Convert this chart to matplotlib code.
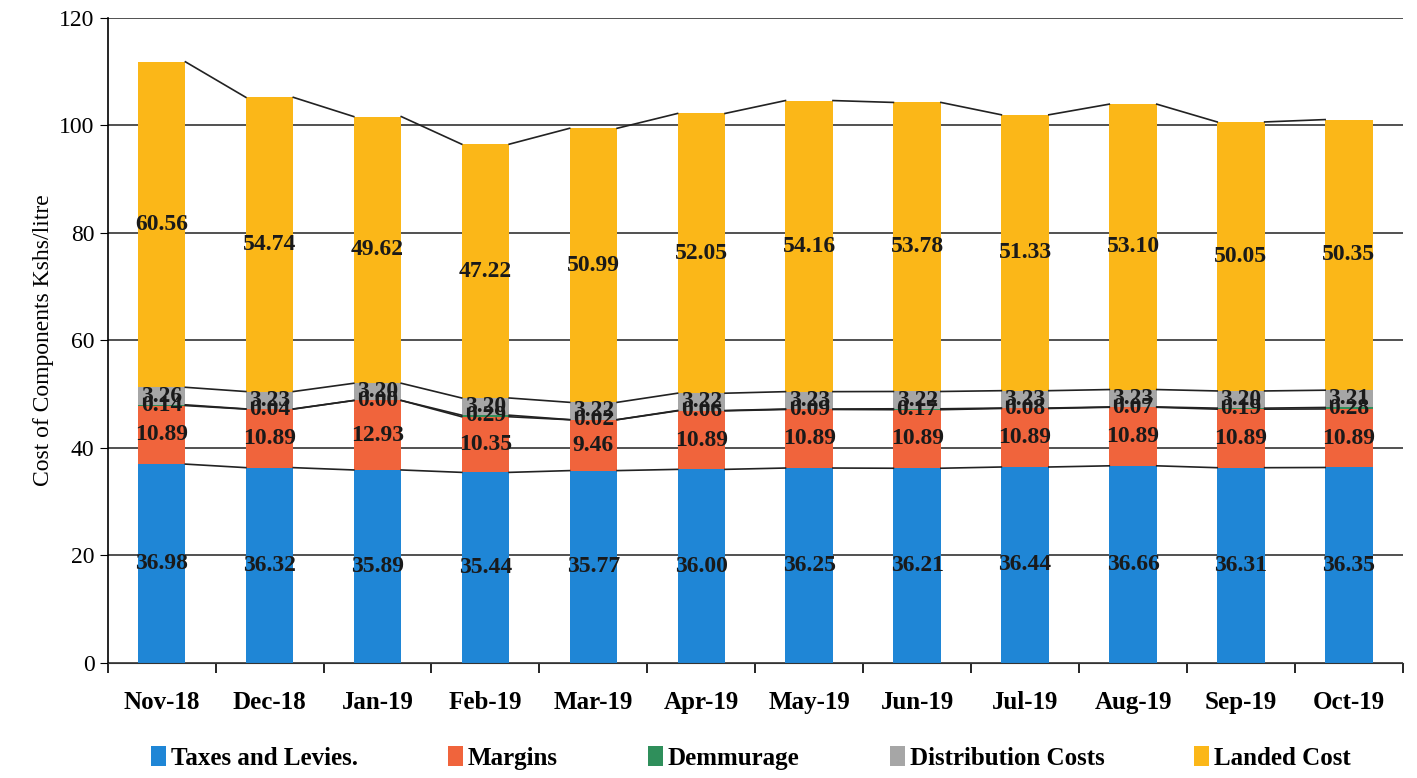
import numpy as np
import matplotlib.pyplot as plt

months = ["Nov-18", "Dec-18", "Jan-19", "Feb-19", "Mar-19", "Apr-19",
          "May-19", "Jun-19", "Jul-19", "Aug-19", "Sep-19", "Oct-19"]
taxes = [36.98, 36.32, 35.89, 35.44, 35.77, 36.00, 36.25, 36.21, 36.44, 36.66, 36.31, 36.35]
margins = [10.89, 10.89, 12.93, 10.35, 9.46, 10.89, 10.89, 10.89, 10.89, 10.89, 10.89, 10.89]
demurrage = [0.14, 0.04, 0.00, 0.29, 0.02, 0.06, 0.09, 0.17, 0.08, 0.07, 0.19, 0.28]
distribution = [3.26, 3.23, 3.20, 3.20, 3.22, 3.22, 3.23, 3.22, 3.23, 3.23, 3.20, 3.21]
landed = [60.56, 54.74, 49.62, 47.22, 50.99, 52.05, 54.16, 53.78, 51.33, 53.10, 50.05, 50.35]

series = [
    ("Taxes and Levies.", taxes, "#1f86d6"),
    ("Margins", margins, "#f0643c"),
    ("Demmurage", demurrage, "#2f8f5b"),
    ("Distribution Costs", distribution, "#a6a6a6"),
    ("Landed Cost", landed, "#fbb718"),
]

plt.rcParams['font.family'] = ['Liberation Serif', 'DejaVu Serif']

fig = plt.figure(figsize=(14.17, 7.78), dpi=100)
ax = fig.add_axes([0.076, 0.148, 0.914, 0.829])

x = np.arange(len(months))
width = 0.44
bottom = np.zeros(len(months))
for name, vals, color in series:
    vals = np.array(vals)
    ax.bar(x, vals, width, bottom=bottom, color=color, label=name, zorder=2)
    top = bottom + vals
    # series lines joining the tops of each segment
    for i in range(len(months) - 1):
        ax.plot([x[i] + width / 2, x[i + 1] - width / 2], [top[i], top[i + 1]],
                color="#222222", lw=1.2, zorder=3)
    for i in range(len(months)):
        ax.text(x[i], bottom[i] + vals[i] / 2, f"{vals[i]:.2f}", ha="center", va="center",
                fontsize=17, fontweight="bold", color="#1a1a1a", zorder=4)
    bottom = top

ax.set_ylim(0, 120)
ax.set_yticks(np.arange(0, 121, 20))
ax.set_xlim(-0.5, len(months) - 0.5)
ax.set_xticks(x)
ax.set_xticklabels(months, fontsize=18, fontweight="bold")
ax.tick_params(axis="y", labelsize=17, length=6)
ax.tick_params(axis="x", length=0, pad=20)
ax.set_xticks(np.arange(-0.5, len(months), 1), minor=True)
ax.tick_params(axis="x", which="minor", length=7, width=1.2)
ax.grid(axis="y", color="#333333", lw=1.2, zorder=0)
ax.set_ylabel("Cost of Components Kshs/litre", fontsize=17)

for s in ["top", "right"]:
    ax.spines[s].set_visible(False)
ax.spines["left"].set_linewidth(1.2)
ax.spines["bottom"].set_color("#333333")

fig.legend(loc="lower center", ncol=5, bbox_to_anchor=(0.53, -0.018), frameon=False,
           prop={"size": 18, "weight": "bold"}, handlelength=0.6, handleheight=0.9,
           handletextpad=0.2, columnspacing=3.6)

fig.savefig("out.png", dpi=100)
